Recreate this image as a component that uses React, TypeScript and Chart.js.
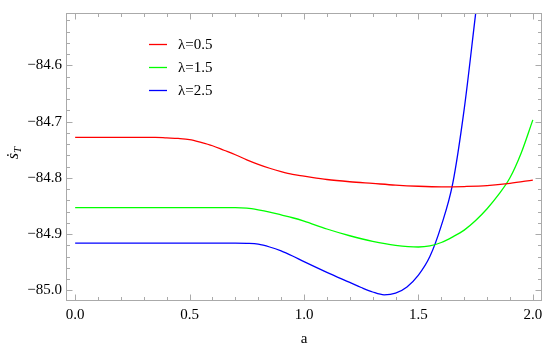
import { useEffect, useRef } from "react";
import { Chart, registerables } from "chart.js";

Chart.register(...registerables);

const SERIES_LABELS = ["λ=0.5", "λ=1.5", "λ=2.5"];
const SERIES_COLORS = ["#ff0000", "#00ff00", "#0000ff"];

const A_RED = [0, 0.35, 0.4, 0.45, 0.5, 0.55, 0.6, 0.65, 0.7, 0.75, 0.8, 0.85, 0.9, 0.95, 1.0, 1.1, 1.2, 1.3, 1.4, 1.5, 1.6, 1.7, 1.8, 1.9, 2.0];
const S_RED = [-84.728, -84.728, -84.729, -84.730, -84.732, -84.737, -84.743, -84.751, -84.759, -84.768, -84.776, -84.783, -84.789, -84.794, -84.797, -84.803, -84.807, -84.810, -84.813, -84.815, -84.816, -84.8155, -84.814, -84.810, -84.804];

const A_GREEN = [0, 0.65, 0.7, 0.75, 0.8, 0.85, 0.9, 0.95, 1.0, 1.1, 1.2, 1.3, 1.4, 1.5, 1.55, 1.6, 1.65, 1.7, 1.75, 1.8, 1.85, 1.9, 1.95, 2.0];
const S_GREEN = [-84.853, -84.853, -84.853, -84.854, -84.857, -84.861, -84.866, -84.871, -84.877, -84.891, -84.903, -84.913, -84.920, -84.923, -84.921, -84.915, -84.905, -84.893, -84.876, -84.855, -84.830, -84.800, -84.755, -84.697];

const A_BLUE = [0, 0.65, 0.7, 0.75, 0.8, 0.85, 0.9, 0.95, 1.0, 1.1, 1.2, 1.25, 1.3, 1.35, 1.4, 1.45, 1.5, 1.55, 1.6, 1.65, 1.7, 1.75];
const S_BLUE = [-84.916, -84.916, -84.916, -84.9165, -84.918, -84.923, -84.930, -84.939, -84.949, -84.968, -84.986, -84.995, -85.003, -85.008, -85.005, -84.994, -84.973, -84.940, -84.885, -84.810, -84.678, -84.508];

const X_TICKS = [0, 0.5, 1.0, 1.5, 2.0];
const Y_TICKS = [-85.0, -84.9, -84.8, -84.7, -84.6];
const X_RANGE = [-0.04, 2.04];
const Y_RANGE = [-85.019, -84.507];

const X_TITLE = "a";
const Y_TITLE_MAIN = "ṡ";
const Y_TITLE_SUB = "T";

const FONT = '"Liberation Serif"';

function toPoints(a: number[], s: number[]) {
  return a.map((x, i) => ({ x, y: s[i] }));
}

const framePlugin = {
  id: "mmaFrame",
  afterDraw(chart: any) {
    const { ctx, chartArea: ca, scales } = chart;
    const xs = scales.x;
    const ys = scales.y;
    const L = Math.round(ca.left) + 0.5;
    const R = Math.round(ca.right) - 0.5;
    const T = Math.round(ca.top) + 0.5;
    const B = Math.round(ca.bottom) - 0.5;
    ctx.save();
    ctx.strokeStyle = "#aaaaaa";
    ctx.lineWidth = 1;
    ctx.strokeRect(L, T, R - L, B - T);

    const major = 6;
    const minor = 3.5;
    ctx.beginPath();
    for (let k = 0; k <= 20; k++) {
      const v = k / 10;
      const len = k % 5 === 0 ? major : minor;
      const px = Math.round(xs.getPixelForValue(v)) + 0.5;
      ctx.moveTo(px, B);
      ctx.lineTo(px, B - len);
      ctx.moveTo(px, T);
      ctx.lineTo(px, T + len);
    }
    for (let k = 0; k <= 24; k++) {
      const v = -85.0 + k * 0.02;
      const len = k % 5 === 0 ? major : minor;
      const py = Math.round(ys.getPixelForValue(v)) + 0.5;
      ctx.moveTo(L, py);
      ctx.lineTo(L + len, py);
      ctx.moveTo(R, py);
      ctx.lineTo(R - len, py);
    }
    ctx.stroke();

    ctx.fillStyle = "#000";
    ctx.font = `15px ${FONT}`;
    ctx.textAlign = "center";
    ctx.textBaseline = "middle";
    ctx.fillText(X_TITLE, (ca.left + ca.right) / 2, 339);

    ctx.save();
    ctx.translate(18, 153);
    ctx.rotate(-Math.PI / 2);
    ctx.textAlign = "left";
    ctx.textBaseline = "alphabetic";
    ctx.font = `italic 16px ${FONT}`;
    const w1 = ctx.measureText(Y_TITLE_MAIN).width;
    ctx.font = `italic 11px ${FONT}`;
    const w2 = ctx.measureText(Y_TITLE_SUB).width;
    const start = -(w1 + w2) / 2;
    ctx.font = `italic 16px ${FONT}`;
    ctx.fillText(Y_TITLE_MAIN, start, 0);
    ctx.font = `italic 11px ${FONT}`;
    ctx.fillText(Y_TITLE_SUB, start + w1, 3);
    ctx.restore();

    chart.data.datasets.forEach((ds: any, i: number) => {
      const y = 44 + 23 * i;
      ctx.strokeStyle = ds.borderColor;
      ctx.lineWidth = 1.3;
      ctx.beginPath();
      ctx.moveTo(149, y + 0.5);
      ctx.lineTo(167, y + 0.5);
      ctx.stroke();
      ctx.fillStyle = "#000";
      ctx.font = `15px ${FONT}`;
      ctx.textAlign = "left";
      ctx.textBaseline = "middle";
      ctx.fillText(ds.label, 178, y + 1);
    });
    ctx.restore();
  },
};

export default function App() {
  const ref = useRef<HTMLCanvasElement | null>(null);
  useEffect(() => {
    if (!ref.current) return;
    const series = [
      toPoints(A_RED, S_RED),
      toPoints(A_GREEN, S_GREEN),
      toPoints(A_BLUE, S_BLUE),
    ];
    const chart = new Chart(ref.current, {
      type: "line",
      data: {
        datasets: series.map((d, i) => ({
          label: SERIES_LABELS[i],
          data: d,
          borderColor: SERIES_COLORS[i],
          backgroundColor: SERIES_COLORS[i],
          borderWidth: 1.3,
          pointRadius: 0,
          fill: false,
          cubicInterpolationMode: "monotone" as const,
        })),
      },
      options: {
        responsive: false,
        animation: false,
        layout: { padding: { top: 9, right: 8, left: 0, bottom: 0 } },
        plugins: {
          legend: { display: false },
          tooltip: { enabled: false },
          title: { display: false },
        },
        scales: {
          x: {
            type: "linear",
            min: X_RANGE[0],
            max: X_RANGE[1],
            grid: { display: false, drawTicks: false },
            border: { display: false },
            afterBuildTicks: (scale: any) => {
              scale.ticks = X_TICKS.map((v) => ({ value: v }));
            },
            afterFit: (scale: any) => {
              scale.height = 47;
            },
            ticks: {
              padding: 5,
              color: "#000",
              font: { family: FONT, size: 15 },
              maxRotation: 0,
              autoSkip: false,
              callback: (v: any) => Number(v).toFixed(1),
            },
          },
          y: {
            type: "linear",
            min: Y_RANGE[0],
            max: Y_RANGE[1],
            grid: { display: false, drawTicks: false },
            border: { display: false },
            afterBuildTicks: (scale: any) => {
              scale.ticks = Y_TICKS.map((v) => ({ value: v }));
            },
            afterFit: (scale: any) => {
              scale.width = 66;
            },
            ticks: {
              padding: 4,
              color: "#000",
              font: { family: FONT, size: 15 },
              autoSkip: false,
              callback: (v: any) => Number(v).toFixed(1).replace("-", "\u2212"),
            },
          },
        },
      },
      plugins: [framePlugin],
    });
    return () => chart.destroy();
  }, []);
  return (
    <div style={{ position: "absolute", left: 0, top: 0, width: 550, height: 348, background: "#fff" }}>
      <canvas ref={ref} width={550} height={348} style={{ display: "block" }} />
    </div>
  );
}
